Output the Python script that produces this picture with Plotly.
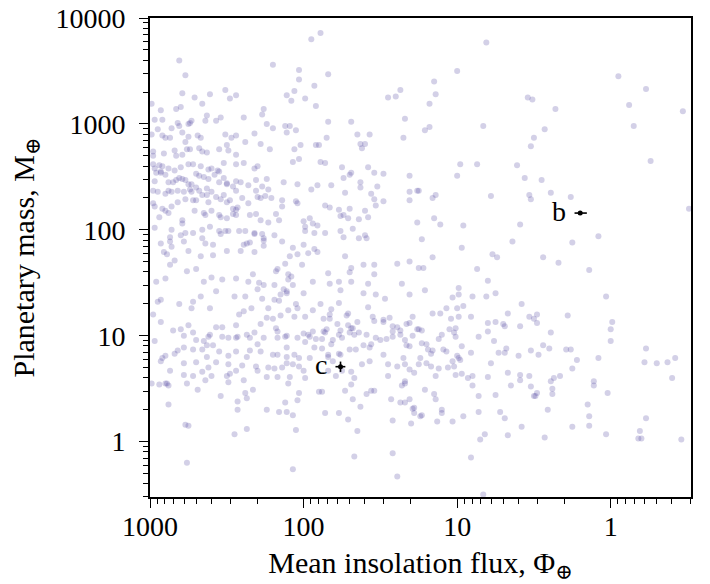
import numpy as np
import plotly.graph_objects as go

# ---------------- data (log10 of flux [Earth units] and log10 of mass [Earth masses]) ----------------
# Giant planets, high mass, very hot (top-left area)
lf_giants_hot = [2.81,2.77,2.79,2.71,2.61,2.51,2.44,2.48,2.66,2.80, 2.83,2.93,2.97,2.92,2.99,2.82,2.81,2.86,2.95,2.79,
                 2.75,2.74,2.73,2.63,2.64,2.57,2.54,2.39,2.20,1.95, 1.89,2.03,2.03,1.84,1.93,2.06,2.11,2.08,1.99,1.92,
                 2.26,2.27,2.24,2.20,2.12,2.09,2.11,2.05,1.84,1.69, 1.65,1.57,1.45,1.40,1.37,1.34,1.35,1.85,2.32,2.44,
                 2.47,2.51,2.69,2.75,2.67,2.92,2.90,2.99,2.87]
lm_giants_hot = [3.60,3.46,3.29,3.25,3.28,3.32,3.27,3.24,3.19,3.16, 3.14,3.13,3.04,3.04,3.19,3.01,2.98,2.96,2.95,2.92,
                 3.00,3.01,3.03,3.08,3.03,3.03,3.06,3.06,3.56,3.80, 3.86,3.51,3.42,3.47,3.36,3.31,3.27,3.22,3.24,3.17,
                 3.14,3.09,3.00,2.96,2.98,2.98,2.92,2.94,3.02,3.02, 2.90,2.90,3.25,3.26,3.32,3.05,2.87,2.87,2.91,2.89,
                 2.87,2.90,2.89,2.88,2.87,2.89,2.87,2.90,2.87]

# Giant planets, high mass, cooler (top-right area)
lf_giants_cool = [0.81,1.00,1.15,1.14,1.18,1.21,1.18,0.83,0.54,0.51, 0.36,0.43,0.50,-0.05,-0.23,-0.12,-0.15,-0.47]
lm_giants_cool = [3.77,3.50,3.40,3.28,3.19,2.94,2.97,2.98,3.25,3.23, 3.14,2.95,2.87,3.45,3.33,3.18,2.98,3.12]

# Jupiters, hot (middle-left band)
lf_jupiters_hot = [
    2.77,2.50,2.38,2.28,2.22,2.06,2.02,1.92,1.90,1.63, 1.60,1.62,2.98,2.98,2.91,2.84,2.83,2.79,2.76,2.74,
    2.68,2.66,2.63,2.55,2.49,2.44,
    2.98,2.97,2.94,2.92,2.93,2.96,2.93,2.88,2.84,2.80, 2.75,2.72,2.67,2.62,2.60,2.56,2.52,2.44,2.39,2.32,
    2.30,2.07,2.03,1.89,1.86,1.75,1.69,1.58,1.54,1.48, 1.31,
    2.97,2.90,2.88,2.85,2.83,2.81,2.79,2.77,2.75,2.73, 2.70,2.68,2.65,2.62,2.58,2.55,2.52,2.55,2.50,2.50,
    2.46,2.44,2.41,2.36,2.31,2.24,2.27,2.23,2.13,2.04, 1.95,1.91,1.82,1.74,1.70,1.63,1.63,1.52,1.31,1.26,
    1.73,1.56,1.54,
    2.98,2.95,2.90,2.88,2.86,2.82,2.78,2.74,2.73,2.70, 2.68,2.66,2.63,2.60,2.57,2.54,2.52,2.50,2.48,2.44,
    2.40,2.36,2.31,2.30,2.28,2.25,2.21,2.14,2.14,2.05, 2.04,1.86,1.83,1.77,1.70,1.60,1.53,1.48,1.31,1.25,
    2.98,2.97,2.92,2.90,2.88,2.94,2.86,2.82,2.77,2.72, 2.70,2.63,2.62,2.71,2.65,2.64,2.60,2.55,2.54,2.50,
    2.46,2.44,2.43,2.46,2.44,2.35,2.31,2.28,2.23,2.18, 2.16,2.00,1.96,1.94,1.91,1.76,1.74,1.71,1.64,1.58,
    1.26,
    2.97,2.86,2.79,2.79,2.66,2.61,2.55,2.54,2.51,2.49, 2.42,2.38,2.32,2.32,2.27,2.26,2.19,2.14,1.99,1.99,
    1.93,1.86,1.76,1.74,1.68,1.64,1.60,1.59,2.87,2.80, 2.77,2.72,
    2.93,2.86,2.87,2.78,2.75,2.66,2.64,2.59,2.50,2.39, 2.37,2.35,2.41,2.32,2.26,2.26,2.07,2.09,2.04,2.00,
    1.97,1.93,1.91,1.73,2.91,2.89,2.67,2.59]
lm_jupiters_hot = [
    2.83,2.80,2.83,2.81,2.76,2.76,2.80,2.80,2.80,2.81, 2.81,2.77,2.74,2.70,2.72,2.75,2.70,2.71,2.76,2.76,
    2.77,2.74,2.73,2.76,2.75,2.71,
    2.62,2.58,2.61,2.60,2.55,2.54,2.54,2.58,2.56,2.59, 2.62,2.62,2.60,2.57,2.58,2.56,2.63,2.62,2.63,2.58,
    2.60,2.64,2.67,2.64,2.63,2.59,2.54,2.59,2.54,2.53, 2.51,
    2.46,2.52,2.45,2.45,2.47,2.49,2.48,2.47,2.43,2.43, 2.53,2.51,2.50,2.48,2.52,2.55,2.49,2.45,2.44,2.43,
    2.41,2.46,2.45,2.42,2.47,2.48,2.41,2.38,2.45,2.43, 2.38,2.42,2.42,2.49,2.52,2.45,2.40,2.41,2.36,2.37,
    2.35,2.34,2.29,
    2.37,2.36,2.34,2.37,2.36,2.37,2.36,2.38,2.36,2.40, 2.37,2.33,2.39,2.36,2.31,2.29,2.33,2.26,2.28,2.37,
    2.30,2.25,2.37,2.31,2.30,2.32,2.30,2.28,2.22,2.27, 2.25,2.23,2.21,2.19,2.20,2.18,2.23,2.27,2.28,2.37,
    2.25,2.22,2.20,2.18,2.16,2.12,2.22,2.26,2.29,2.28, 2.28,2.33,2.26,2.18,2.16,2.14,2.18,2.14,2.12,2.11,
    2.20,2.19,2.21,2.15,2.14,2.14,2.15,2.09,2.07,2.15, 2.09,2.08,2.11,2.06,2.04,2.13,2.14,2.11,2.10,2.12,
    2.07,
    2.02,2.00,2.09,2.06,2.00,2.03,1.99,1.96,1.99,1.99, 1.99,1.99,1.97,1.96,1.96,1.92,1.95,1.89,2.03,1.99,
    1.97,1.97,1.99,1.93,2.01,1.92,1.95,1.92,1.93,1.95, 1.97,1.97,
    1.87,1.84,1.89,1.89,1.80,1.92,1.87,1.86,1.80,1.86, 1.87,1.88,1.80,1.79,1.85,1.90,1.83,1.75,1.77,1.86,
    1.78,1.82,1.79,1.75,1.79,1.77,1.75,1.76]

# Jupiters, cooler (middle-right band)
lf_jupiters_cool = [0.52,0.98,0.87,1.00,0.61,0.56,0.45,1.14,1.16,0.78, 0.53,0.52,0.39,0.26,-0.26,-0.51,1.15,1.11,0.96,0.59,
                    1.23,0.97,0.64,0.25,0.08,1.16,0.77,0.74,0.44]
lm_jupiters_cool = [2.79,2.62,2.62,2.51,2.61,2.49,2.47,2.33,2.30,2.32, 2.33,2.29,2.35,2.31,2.65,2.20,2.11,2.05,2.04,2.05,
                    1.91,1.83,1.89,1.88,1.94,1.74,1.77,1.74,1.74]

# Neptunes / super-Earths, hot (lower-left)
lf_small_hot = [2.84,2.87,2.76,2.70,2.60,2.65,2.53,2.44,2.36,2.33, 2.29,2.30,2.26,2.19,2.18,2.17,2.10,2.08,2.10,2.07,
                2.01,2.12,2.11,2.13,2.15,2.16,2.11,2.00,1.94,1.84, 1.83,1.77,1.76,1.70,1.69,1.69,1.61,1.54,1.54,1.58,
                1.61,1.53,1.47,1.39,1.36,1.31,1.25,1.31,1.29,1.31, 2.96,2.90,2.93,2.95,2.81,2.72,2.73,2.67,2.61,2.57,
                2.45,2.38,2.39,2.42,2.34,2.27,2.19,2.23,2.15,2.10, 2.05,2.04,2.06,1.99,1.94,1.89,1.82,1.83,1.83,1.77,
                1.72,1.71,1.71,1.69,1.76,1.87,1.85,1.86,1.78,1.65, 1.58,1.55,1.54,1.48,1.48,1.44,1.42,1.39,1.37,1.29,
                1.26,1.25,1.33,2.98,2.93,2.75,2.85,2.80,2.78,2.72, 2.97,2.70,2.65,2.62,2.61,2.59,2.57,2.53,2.53,2.49,
                2.44,2.44,2.43,2.37,2.35,2.32,2.26,2.28,2.24,2.20, 2.18,2.17,2.17,2.12,2.11,2.11,2.04,2.00,1.97,1.99,
                1.96,1.94,1.92,1.88,1.87,1.81,1.82,1.77,1.75,1.70, 1.67,1.68,1.64,1.59,1.56,1.57,1.61,1.53,1.50,1.46,
                1.42,1.42,1.37,1.33,1.31,1.34,1.70,1.66,1.76,1.77, 1.84,1.84,1.88,1.93,1.96,2.03,2.06,2.11,2.17,2.20,
                2.28,2.30,2.35,2.37,2.44,2.49,2.55,2.63,2.66,2.72, 2.78,2.82,2.84,2.90,2.92,2.93,2.78,2.70,2.63,2.62,
                2.57,2.49,2.48,2.44,2.40,2.31,2.30,2.23,2.19,2.14, 2.11,2.07,2.03,2.00,1.81,1.84,1.75,1.69,1.62,1.57,
                1.48,1.45,1.39,1.35,1.34,1.31,1.28,1.24,2.87,2.78, 2.72,2.66,2.60,2.50,2.24,2.17,2.09,1.99,1.79,1.67,
                1.45,1.25,
                2.99,2.94,2.90,2.88,2.89,2.76,2.69,2.64,2.49,2.39, 2.54,2.88,2.43,2.38,2.37,2.33,2.43,2.24,2.16,2.11,
                2.12,2.07,2.04,2.03,2.10,1.90,1.88,1.86,1.77,1.73, 1.69,1.68,1.71,1.63,1.65,1.59,1.56,1.54,1.43,1.42,
                1.37,1.34,1.36,1.34,1.34,1.31,1.29,1.28,1.28,1.30, 1.24,2.77,2.75,2.45,2.37,2.05,2.76,2.07,1.67,1.42,
                1.39]
lm_small_hot = [1.71,1.67,1.61,1.63,1.55,1.51,1.53,1.54,1.51,1.58, 1.50,1.44,1.48,1.48,1.61,1.63,1.58,1.56,1.53,1.48,
                1.67,1.68,1.42,1.44,1.39,1.33,1.40,1.40,1.51,1.59, 1.49,1.51,1.43,1.60,1.64,1.51,1.67,1.67,1.58,1.49,
                1.40,1.39,1.35,1.68,1.49,1.70,1.64,1.39,1.18,1.12, 1.51,1.54,1.34,1.32,1.30,1.32,1.26,1.37,1.26,1.42,
                1.37,1.37,1.23,1.20,1.26,1.35,1.34,1.26,1.19,1.24, 1.30,1.26,1.18,1.18,1.24,1.30,1.25,1.20,1.16,1.31,
                1.19,1.21,1.10,1.07,1.05,1.16,1.06,1.03,1.11,1.13, 1.27,1.18,1.14,1.13,1.15,1.17,1.09,1.08,1.01,1.00,
                1.06,1.06,1.11,1.20,1.13,1.10,1.05,1.06,1.00,1.03, 0.95,0.96,0.95,0.99,1.01,0.91,1.08,1.08,0.99,0.98,
                0.98,1.10,0.99,1.01,0.98,1.03,0.98,1.11,1.17,1.16, 1.07,1.04,0.98,0.99,1.00,0.89,0.98,1.02,1.01,0.94,
                0.99,1.04,0.97,0.97,1.04,0.96,0.92,1.01,0.98,1.03, 1.01,1.07,1.03,1.01,0.92,0.89,0.91,0.98,0.96,0.97,
                0.99,1.04,1.05,0.91,0.90,0.96,0.87,0.87,0.82,0.83, 0.80,0.82,0.88,0.89,0.79,0.79,0.82,0.80,0.82,0.82,
                0.85,0.92,0.86,0.80,0.85,0.81,0.85,0.91,0.87,0.87, 0.89,0.86,0.83,0.81,0.79,0.76,0.74,0.75,0.80,0.70,
                0.75,0.73,0.64,0.67,0.72,0.71,0.67,0.70,0.69,0.70, 0.74,0.73,0.71,0.67,0.76,0.67,0.67,0.66,0.73,0.76,
                0.82,0.73,0.71,0.79,0.73,0.68,0.65,0.79,0.67,0.63, 0.62,0.66,0.62,0.62,0.61,0.61,0.61,0.60,0.62,0.60,
                0.62,0.73,
                0.55,0.54,0.55,0.53,0.55,0.55,0.49,0.58,0.56,0.58, 0.43,0.35,0.38,0.46,0.41,0.49,0.30,0.30,0.28,0.28,
                0.37,0.25,0.39,0.46,0.55,0.47,0.47,0.27,0.27,0.48, 0.54,0.40,0.21,0.33,0.10,0.45,0.48,0.48,0.40,0.20,
                0.37,0.37,0.53,0.57,0.55,0.40,0.31,0.32,0.27,0.17, 0.24,0.16,0.15,0.07,0.12,0.11,-0.20,-0.26,-0.14,-0.11,
                -0.33]

# Neptunes / super-Earths, cooler (lower-right)
lf_small_cool = [1.22,0.87,0.34,0.14,0.80,1.21,0.99,0.99,1.03,0.90, 0.81,0.75,0.58,0.03,1.16,1.11,1.07,1.04,1.00,0.99,
                 0.96,0.91,0.67,0.53,0.50,0.48,0.48,0.28,-0.01,0.00, 0.00,0.80,0.75,0.70,0.69,0.59,0.39,1.23,1.05,1.01,
                 1.02,1.01,1.10,1.12,0.86,0.80,0.76,1.23,1.20,1.19, 1.17,1.16,1.09,1.07,0.97,0.91,1.00,0.99,1.03,0.98,
                 1.20,1.17,1.12,1.06,1.02,1.14,1.01,0.97,0.93,0.90, 0.80,0.78,0.73,0.69,0.68,0.67,0.60,0.59,0.53,0.52,
                 0.47,0.44,0.40,0.37,0.33,0.29,0.26,0.22,0.25,0.08, -0.23,-0.22,-0.30,-0.37,-0.42,-0.40,
                 0.90,1.21,1.15,1.14,0.86,0.75,0.65,0.59,0.52,0.49, 0.48,0.50,0.39,0.38,0.38,0.11,0.11,0.02,1.23,1.13,
                 1.10,1.10,1.03,0.96,0.86,0.72,0.69,0.82,0.85,0.67, 0.58,0.41,0.43,0.91,0.25,0.15,0.14,0.14,0.03,-0.23,
                 -0.19,-0.18,-0.20,-0.46,0.83]
lm_small_cool = [1.64,1.63,1.69,1.62,1.52,1.43,1.45,1.39,1.36,1.37, 1.37,1.40,1.30,1.37,1.21,1.21,1.26,1.16,1.26,1.18,
                 1.28,1.18,1.21,1.18,1.16,1.20,1.12,1.19,1.13,1.06, 0.95,1.12,1.13,1.11,1.09,1.09,1.03,1.05,1.06,1.07,
                 1.03,0.99,1.01,0.97,0.99,1.04,0.95,0.93,0.92,0.87, 0.83,0.86,0.87,0.85,0.90,0.84,0.81,0.79,0.76,0.77,
                 0.74,0.71,0.69,0.70,0.71,0.62,0.63,0.64,0.60,0.62, 0.61,0.74,0.84,0.84,0.88,0.65,0.81,0.63,0.62,0.86,
                 0.82,0.91,0.88,0.60,0.62,0.87,0.87,0.77,0.69,0.79, 0.88,0.75,0.74,0.75,0.79,0.60,
                 0.53,0.49,0.45,0.40,0.43,0.44,0.53,0.58,0.52,0.43, 0.46,0.43,0.57,0.50,0.45,0.57,0.53,0.46,0.25,0.19,
                 0.30,0.27,0.19,0.24,0.28,0.28,0.22,0.07,0.02,0.06, 0.14,0.30,0.04,-0.15,0.14,0.35,0.24,0.15,0.07,0.22,
                 0.10,0.03,0.03,0.02,-0.50]

# Highlighted planets
planet_names = ["b", "c"]
planet_flux = [1.58, 57.5]
planet_flux_err_hi = [0.14, 4.5]
planet_flux_err_lo = [0.15, 4.0]
planet_mass = [144.0, 5.1]
planet_mass_err_hi = [0.0, 0.6]
planet_mass_err_lo = [0.0, 0.55]

x_tick_values = [1000, 100, 10, 1]
y_tick_values = [1, 10, 100, 1000, 10000]

# ---------------- build ----------------
groups_lf = [lf_giants_hot, lf_giants_cool, lf_jupiters_hot, lf_jupiters_cool, lf_small_hot, lf_small_cool]
groups_lm = [lm_giants_hot, lm_giants_cool, lm_jupiters_hot, lm_jupiters_cool, lm_small_hot, lm_small_cool]
for a, b in zip(groups_lf, groups_lm):
    assert len(a) == len(b), (len(a), len(b))
flux = 10 ** np.concatenate([np.array(g, float) for g in groups_lf])
mass = 10 ** np.concatenate([np.array(g, float) for g in groups_lm])

FONT = "Liberation Serif, Times New Roman, DejaVu Serif, serif"

fig = go.Figure()
fig.add_trace(go.Scatter(
    x=flux, y=mass, mode="markers",
    marker=dict(size=6, color="rgba(78,66,158,0.25)", line=dict(width=0)),
    hoverinfo="skip", showlegend=False))

fig.add_trace(go.Scatter(
    x=planet_flux, y=planet_mass, mode="markers",
    marker=dict(size=5, color="black"),
    error_x=dict(type="data", symmetric=False, array=planet_flux_err_hi,
                 arrayminus=planet_flux_err_lo, color="black", thickness=1.6, width=0),
    error_y=dict(type="data", symmetric=False, array=planet_mass_err_hi,
                 arrayminus=planet_mass_err_lo, color="black", thickness=1.6, width=0),
    showlegend=False, hoverinfo="skip"))

for name, fx, my in zip(planet_names, planet_flux, planet_mass):
    fig.add_annotation(x=np.log10(fx), y=np.log10(my), text=name, showarrow=False,
                       xanchor="right", yanchor="middle", xshift=-12, yshift=2,
                       font=dict(family=FONT, size=28, color="black"))

minor_vals = [m * 10.0 ** e for e in range(-2, 5) for m in range(2, 10)]

axis_common = dict(
    type="log", showgrid=False, zeroline=False,
    showline=True, linecolor="black", linewidth=1.8, mirror=True,
    ticks="outside", ticklen=9, tickwidth=1.4, tickcolor="black",
    tickfont=dict(family=FONT, size=28, color="black"),
    ticklabeloverflow="allow",
    minor=dict(tickvals=minor_vals, ticks="outside", ticklen=5, tickwidth=1.1,
               tickcolor="black", showgrid=False),
)

fig.update_xaxes(**axis_common, range=[3.0005, -0.523],
                 tickmode="array", tickvals=x_tick_values,
                 ticktext=[str(v) for v in x_tick_values],
                 ticklabelstandoff=-6,
                 title=dict(text="Mean insolation flux, Φ<sub>⊕</sub>",
                            font=dict(family=FONT, size=30, color="black"), standoff=20))
fig.update_yaxes(**axis_common, range=[-0.523, 4.0005],
                 tickmode="array", tickvals=y_tick_values,
                 ticktext=[str(v) for v in y_tick_values],
                 ticklabelstandoff=8,
                 title=dict(text="Planetary mass, M<sub>⊕</sub>",
                            font=dict(family=FONT, size=30, color="black"), standoff=12))

fig.update_layout(
    width=710, height=584,
    margin=dict(l=150, r=19, t=18, b=87, autoexpand=False),
    plot_bgcolor="white", paper_bgcolor="white",
    font=dict(family=FONT, color="black"),
)

# remove the default 8 px page margin so the figure fills the window exactly
fig.write_html("out.html",
               config={"displayModeBar": False},
               post_script="document.body.style.margin='0';document.body.style.overflow='hidden';")
